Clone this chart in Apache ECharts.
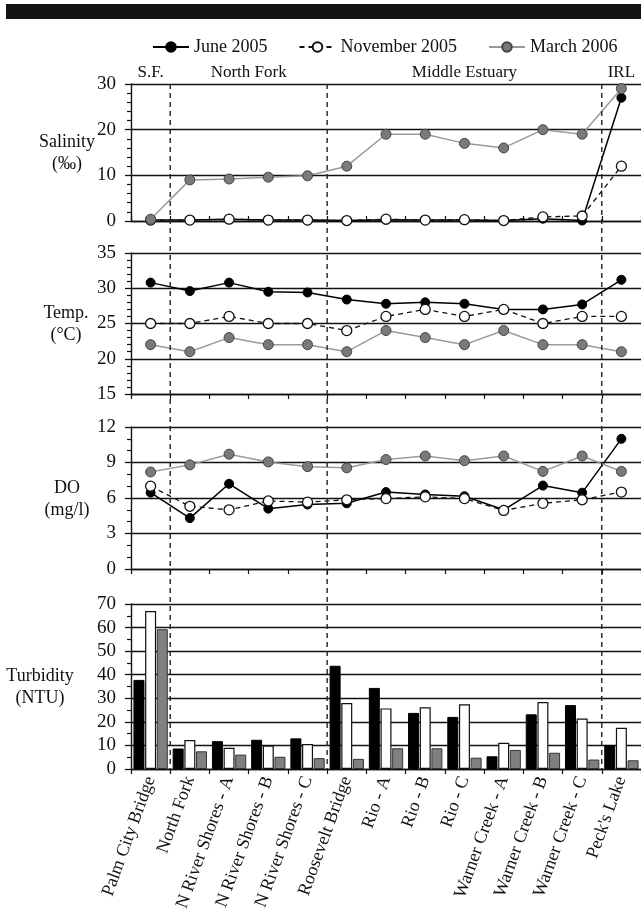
<!DOCTYPE html>
<html><head><meta charset="utf-8">
<script src="https://cdn.jsdelivr.net/npm/echarts@6/dist/echarts.min.js"></script>
<style>html,body{margin:0;padding:0;background:#fff}#c{width:641px;height:909px}</style>
</head><body><div id="c"></div>
<script>
const categories = ["Palm City Bridge","North Fork","N River Shores - A","N River Shores - B","N River Shores - C","Roosevelt Bridge","Rio - A","Rio - B","Rio - C","Warner Creek - A","Warner Creek - B","Warner Creek - C","Peck's Lake"];
const seriesNames = ["June 2005","November 2005","March 2006"];

const salJune = [0.2,0.2,0.4,0.2,0.2,0.1,0.3,0.2,0.2,0.1,0.5,0.1,27];
const salNov  = [0.2,0.2,0.4,0.2,0.2,0.1,0.4,0.2,0.3,0.1,0.9,1.1,12];
const salMar  = [0.4,9,9.2,9.6,9.9,12,19,19,17,16,20,19,29];

const tempJune = [30.8,29.6,30.8,29.5,29.4,28.4,27.8,28.0,27.8,27.0,27.0,27.7,31.2];
const tempNov  = [25,25,26,25,25,24,26,27,26,27,25,26,26];
const tempMar  = [22,21,23,22,22,21,24,23,22,24,22,22,21];

const doJune = [6.45,4.3,7.2,5.1,5.45,5.55,6.5,6.3,6.15,5.0,7.05,6.45,11.0];
const doNov  = [7.0,5.3,5.0,5.75,5.65,5.85,5.95,6.1,5.95,4.95,5.55,5.85,6.5];
const doMar  = [8.2,8.8,9.7,9.05,8.65,8.55,9.25,9.55,9.15,9.55,8.25,9.55,8.25];

const turbJune = [37.8,8.7,11.8,12.4,13.0,43.8,34.4,23.8,22.1,5.4,23.2,27.1,10.2];
const turbNov  = [67,12.3,9.0,10.0,10.6,28.0,25.7,26.2,27.5,11.1,28.4,21.4,17.5];
const turbMar  = [59.3,7.5,6.1,5.2,4.6,4.3,8.8,8.8,4.8,8.1,6.9,4.0,3.7];

const yTickSal = {min:0,max:30,interval:10,minor:5};
const yTickTemp = {min:15,max:35,interval:5,minor:5};
const yTickDO = {min:0,max:12,interval:3,minor:3};
const yTickTurb = {min:0,max:70,interval:10,minor:2};

const panelNames = [["Salinity","(‰)"],["Temp.","(°C)"],["DO","(mg/l)"],["Turbidity","(NTU)"]];
const regions = [["S.F.",0,0],["North Fork",1,4],["Middle Estuary",5,11],["IRL",12,12]];
const boundaries = [0,4,11];

const FONT = '"Liberation Serif", "Times New Roman", serif';
const grids = [
  {left:131,right:0,top:84,height:137,outerBoundsMode:'none',containLabel:false},
  {left:131,right:0,top:253,height:141,outerBoundsMode:'none',containLabel:false},
  {left:131,right:0,top:427,height:142,outerBoundsMode:'none',containLabel:false},
  {left:131,right:0,top:604,height:165,outerBoundsMode:'none',containLabel:false}
];
const ticks = [yTickSal,yTickTemp,yTickDO,yTickTurb];

const chart = echarts.init(document.getElementById('c'));

const xAxes = grids.map((g,i)=>({
  type:'category', gridIndex:i, data:categories, boundaryGap:true,
  axisLine:{show:true,lineStyle:{color:'#111',width:1.4}},
  axisTick:{show:true,interval:0,length:5,inside:i===0,lineStyle:{color:'#111',width:1.2}},
  axisLabel:{show:i===3,interval:0,rotate:70,fontFamily:FONT,fontSize:18,color:'#111',margin:8},
  splitLine:{show:false}
}));
const yAxes = ticks.map((t,i)=>({
  type:'value', gridIndex:i, min:t.min, max:t.max, interval:t.interval,
  axisLine:{show:true,lineStyle:{color:'#111',width:1.4}},
  axisTick:{show:true,length:6,lineStyle:{color:'#111',width:1.3}},
  minorTick:{show:true,splitNumber:t.minor,length:4,lineStyle:{color:'#111',width:1.2}},
  axisLabel:{fontFamily:FONT,fontSize:19,color:'#111',margin:15},
  splitLine:{show:true,lineStyle:{color:'#111',width:1.4}}
}));

function lineSeries(gi, jun, nov, mar){
  return [
    {name:seriesNames[0],type:'line',xAxisIndex:gi,yAxisIndex:gi,data:jun,z:2,
     symbol:'circle',symbolSize:9,lineStyle:{color:'#000',width:1.5},itemStyle:{color:'#000',borderColor:'#000',borderWidth:1},animation:false},
    {name:seriesNames[1],type:'line',xAxisIndex:gi,yAxisIndex:gi,data:nov,z:3,
     symbol:'circle',symbolSize:10,lineStyle:{color:'#111',width:1.3,type:[5,4]},itemStyle:{color:'#fff',borderColor:'#111',borderWidth:1.3},animation:false},
    {name:seriesNames[2],type:'line',xAxisIndex:gi,yAxisIndex:gi,data:mar,z:4,
     symbol:'circle',symbolSize:10,lineStyle:{color:'#9a9a9a',width:1.5},itemStyle:{color:'#7a7a7a',borderColor:'#444',borderWidth:1},animation:false}
  ];
}
const series = [
  ...lineSeries(0,salJune,salNov,salMar),
  ...lineSeries(1,tempJune,tempNov,tempMar),
  ...lineSeries(2,doJune,doNov,doMar),
  {name:seriesNames[0],type:'bar',xAxisIndex:3,yAxisIndex:3,data:turbJune,barWidth:11,barGap:'6%',
   itemStyle:{color:'#000',borderColor:'#000',borderWidth:1},animation:false},
  {name:seriesNames[1],type:'bar',xAxisIndex:3,yAxisIndex:3,data:turbNov,barWidth:11,barGap:'6%',
   itemStyle:{color:'#fff',borderColor:'#111',borderWidth:1.2},animation:false},
  {name:seriesNames[2],type:'bar',xAxisIndex:3,yAxisIndex:3,data:turbMar,barWidth:11,barGap:'6%',
   itemStyle:{color:'#808080',borderColor:'#333',borderWidth:1},animation:false}
];

chart.setOption({
  animation:false,
  backgroundColor:'#fff',
  grid:grids,
  xAxis:xAxes,
  yAxis:yAxes,
  legend:{data:seriesNames,left:147,top:33,itemWidth:36,itemHeight:12,itemGap:31,
    textStyle:{fontFamily:FONT,fontSize:18,color:'#111'}},
  series:series
});

// decorations placed from the axes' own scales
const g = [];
g.push({type:'rect',shape:{x:6,y:4,width:641,height:15},style:{fill:'#141414'},silent:true});
const c0 = chart.convertToPixel({xAxisIndex:0},0);
const c1 = chart.convertToPixel({xAxisIndex:0},1);
const band = c1 - c0;
const yTop = grids[0].top, yBot = grids[3].top + grids[3].height;
boundaries.forEach(b=>{
  const x = chart.convertToPixel({xAxisIndex:0},b) + band/2;
  g.push({type:'line',shape:{x1:x,y1:yTop,x2:x,y2:yBot},style:{stroke:'#222',lineWidth:1.4,lineDash:[5,4]},z:10,silent:true});
});
regions.forEach(r=>{
  const x = (chart.convertToPixel({xAxisIndex:0},r[1]) + chart.convertToPixel({xAxisIndex:0},r[2]))/2;
  g.push({type:'text',x:x,y:73,style:{text:r[0],font:'17px '+FONT,fill:'#111',align:'center',verticalAlign:'middle'},silent:true});
});
const nameX = [67,66,67,40];
panelNames.forEach((p,i)=>{
  const mid = grids[i].top + grids[i].height/2;
  g.push({type:'text',x:nameX[i],y:mid-10,style:{text:p[0],font:'18px '+FONT,fill:'#111',align:'center',verticalAlign:'middle'},silent:true});
  g.push({type:'text',x:nameX[i],y:mid+12,style:{text:p[1],font:'18px '+FONT,fill:'#111',align:'center',verticalAlign:'middle'},silent:true});
});
chart.setOption({graphic:g});
</script>
</body></html>
